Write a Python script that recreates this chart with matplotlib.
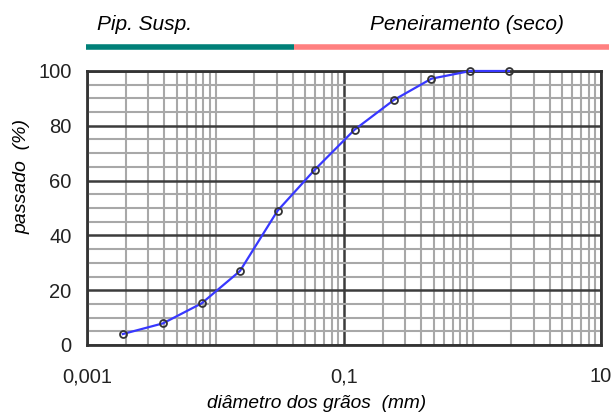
import numpy as np
import matplotlib
matplotlib.use("Agg")
import matplotlib.pyplot as plt
from matplotlib.ticker import FixedLocator, MultipleLocator, LogLocator, NullFormatter
from matplotlib.lines import Line2D

plt.rcParams['font.family'] = ['Liberation Sans', 'DejaVu Sans']

# dados da curva granulométrica
diametro = [0.0019, 0.0039, 0.0078, 0.0155, 0.0304, 0.0593, 0.121, 0.244, 0.479, 0.962, 1.92]
passado = [4.0, 7.9, 15.2, 27.0, 49.0, 64.0, 78.6, 89.4, 97.2, 100.0, 100.0]

x_ticks = [0.001, 0.1, 10]
x_labels = ['0,001', '0,1', '10']
y_ticks = [0, 20, 40, 60, 80, 100]

fig = plt.figure(figsize=(6.14, 4.16), dpi=100)
ax = fig.add_axes([87/614, 1 - 345/416, (601 - 87)/614, (345 - 71)/416])

ax.set_xscale('log')
ax.set_xlim(0.001, 10)
ax.set_ylim(0, 100)

ax.xaxis.set_major_locator(FixedLocator(x_ticks))
ax.set_xticklabels(x_labels)
ax.xaxis.set_minor_locator(LogLocator(base=10, subs=np.arange(1, 10), numticks=20))
ax.xaxis.set_minor_formatter(NullFormatter())
ax.yaxis.set_major_locator(FixedLocator(y_ticks))
ax.yaxis.set_minor_locator(MultipleLocator(5))

ax.grid(which='minor', color='#a8a8a8', lw=1.5)
ax.grid(which='major', color='#3c3c3c', lw=1.8)
ax.set_axisbelow(True)

for s in ax.spines.values():
    s.set_color('#333333')
    s.set_linewidth(2)

ax.tick_params(which='both', length=0)
ax.tick_params(axis='x', pad=16, labelsize=14.5, labelcolor='#222222')
ax.tick_params(axis='y', pad=11, labelsize=14.5, labelcolor='#222222')

ax.plot(diametro, passado, color='#3838ff', lw=1.6, marker='o', ms=5,
        mfc='none', mec='#333333', mew=1.3, clip_on=False, zorder=5)

fig.text(317/614, 1 - 404/416, 'diâmetro dos grãos  (mm)', ha='center', va='center',
         fontsize=13.8, style='italic')
fig.text(22/614, 1 - 177/416, 'passado  (%)', ha='center', va='center',
         rotation=90, fontsize=14, style='italic')

# faixas no topo
fig.text(97/614, 1 - 24/416, 'Pip. Susp.', ha='left', va='center', fontsize=15, style='italic')
fig.text(370/614, 1 - 24/416, 'Peneiramento (seco)', ha='left', va='center', fontsize=15, style='italic')
fig.add_artist(Line2D([86/614, 294/614], [1 - 47/416] * 2, color='#008078', lw=4,
                      solid_capstyle='butt'))
fig.add_artist(Line2D([294/614, 609/614], [1 - 47/416] * 2, color='#ff8080', lw=4,
                      solid_capstyle='butt'))

fig.savefig('out.png', dpi=100)
